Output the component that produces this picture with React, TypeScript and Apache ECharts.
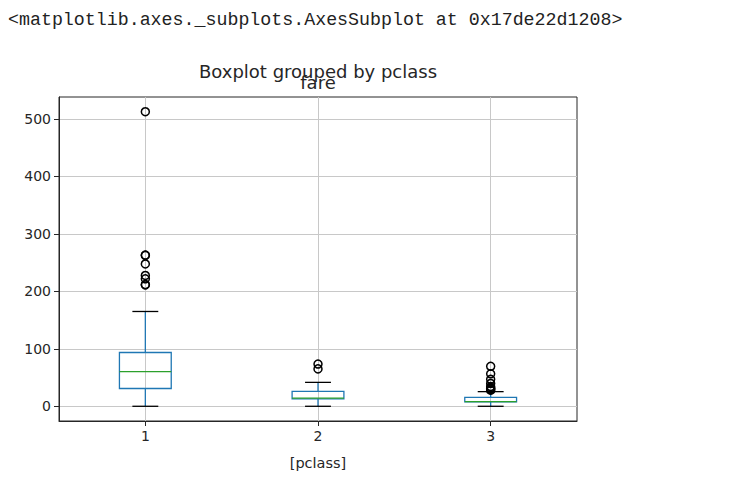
import React, { useEffect, useRef } from "react";
import * as echarts from "echarts";

const classes = [1, 2, 3];
const whiskerLow = [0, 0, 0];
const q1 = [30.92, 13.0, 7.75];
const median = [60.29, 14.25, 8.05];
const q3 = [93.5, 26.0, 15.5];
const whiskerHigh = [164.87, 41.58, 25.47];
const outliers1 = [211.34, 211.5, 221.78, 227.53, 247.52, 262.38, 263.0, 512.33];
const outliers2 = [65.0, 73.5];
const outliers3 = [27.9, 29.13, 31.28, 31.39, 34.38, 39.69, 46.9, 56.5, 69.55];
const yTicks = [0, 100, 200, 300, 400, 500];
const xTicks = [1, 2, 3];

const FONT = "DejaVu Sans";
const TXT = "#262626";

export default function App() {
  const ref = useRef<HTMLDivElement>(null);
  useEffect(() => {
    if (!ref.current) return;
    const chart = echarts.init(ref.current, null, { renderer: "svg" });
    const boxData = classes.map((c, i) => [c, whiskerLow[i], q1[i], median[i], q3[i], whiskerHigh[i]]);
    const outlierData: number[][] = [];
    [outliers1, outliers2, outliers3].forEach((arr, i) => arr.forEach((v) => outlierData.push([classes[i], v])));

    chart.setOption({
      animation: false,
      grid: {
        left: 59, top: 97, right: 165, bottom: 59,
        show: true, borderColor: "#262626", borderWidth: 1, backgroundColor: "transparent",
      },
      xAxis: {
        type: "value", min: 0.5, max: 3.5,
        name: "[pclass]", nameLocation: "middle", nameGap: 34,
        nameTextStyle: { fontFamily: FONT, fontSize: 14.5, color: TXT },
        axisLine: { show: true, onZero: false, lineStyle: { color: "#262626" } },
        axisTick: { show: true, length: 5, customValues: xTicks, lineStyle: { color: "#262626" } },
        axisLabel: { customValues: xTicks, fontFamily: FONT, fontSize: 14, color: TXT, margin: 8 },
        splitLine: { show: true, lineStyle: { color: "#c8c8c8", width: 1 } },
      },
      yAxis: {
        type: "value", min: -25.6, max: 537.9,
        axisLine: { show: true, onZero: false, lineStyle: { color: "#262626" } },
        axisTick: { show: true, length: 5, customValues: yTicks, lineStyle: { color: "#262626" } },
        axisLabel: { customValues: yTicks, fontFamily: FONT, fontSize: 14, color: TXT, margin: 8 },
        splitLine: { show: true, lineStyle: { color: "#c8c8c8", width: 1 } },
      },
      graphic: [
        {
          type: "text", left: 8, top: 11,
          style: { text: "<matplotlib.axes._subplots.AxesSubplot at 0x17de22d1208>", font: '18.3px "Liberation Mono"', fill: "#222" },
        },
        {
          type: "text", x: 318, y: 71,
          style: { text: "Boxplot grouped by pclass", font: '18px "DejaVu Sans"', fill: TXT, align: "center", verticalAlign: "middle" },
        },
        {
          type: "text", x: 318, y: 82,
          style: { text: "fare", font: '18px "DejaVu Sans"', fill: TXT, align: "center", verticalAlign: "middle" },
        },
      ],
      series: [
        {
          type: "custom",
          data: boxData,
          encode: { x: 0, y: [1, 2, 3, 4, 5] },
          z: 3,
          renderItem: (params: any, api: any) => {
            const x = api.value(0);
            const pLow = api.coord([x, api.value(1)]);
            const pQ1 = api.coord([x, api.value(2)]);
            const pMed = api.coord([x, api.value(3)]);
            const pQ3 = api.coord([x, api.value(4)]);
            const pHigh = api.coord([x, api.value(5)]);
            const boxW = api.size([0.3, 0])[0];
            const capW = api.size([0.15, 0])[0];
            const cx = pMed[0];
            const blue = "#1f77b4";
            return {
              type: "group",
              children: [
                { type: "line", shape: { x1: cx, y1: pQ1[1], x2: cx, y2: pLow[1] }, style: { stroke: blue, lineWidth: 1.3 } },
                { type: "line", shape: { x1: cx, y1: pQ3[1], x2: cx, y2: pHigh[1] }, style: { stroke: blue, lineWidth: 1.3 } },
                { type: "line", shape: { x1: cx - capW / 2, y1: pLow[1], x2: cx + capW / 2, y2: pLow[1] }, style: { stroke: "#000", lineWidth: 1.3 } },
                { type: "line", shape: { x1: cx - capW / 2, y1: pHigh[1], x2: cx + capW / 2, y2: pHigh[1] }, style: { stroke: "#000", lineWidth: 1.3 } },
                { type: "rect", shape: { x: cx - boxW / 2, y: pQ3[1], width: boxW, height: pQ1[1] - pQ3[1] }, style: { fill: "none", stroke: blue, lineWidth: 1.3 } },
                { type: "line", shape: { x1: cx - boxW / 2, y1: pMed[1], x2: cx + boxW / 2, y2: pMed[1] }, style: { stroke: "#2ca02c", lineWidth: 1.3 } },
              ],
            };
          },
        },
        {
          type: "scatter",
          data: outlierData,
          symbol: "circle",
          symbolSize: 8,
          z: 4,
          itemStyle: { color: "rgba(0,0,0,0)", borderColor: "#000", borderWidth: 1.5, opacity: 1 },
        },
      ],
    });
    return () => chart.dispose();
  }, []);
  return <div ref={ref} style={{ position: "fixed", left: 0, top: 0, width: 742, height: 480, background: "#fff" }} />;
}
